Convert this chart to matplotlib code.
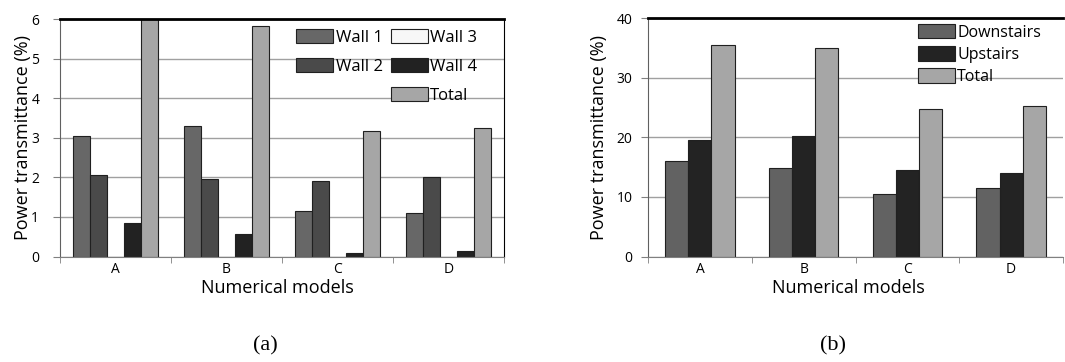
import numpy as np
import matplotlib
matplotlib.use('Agg')
import matplotlib.pyplot as plt
from matplotlib.patches import Patch

plt.rcParams['font.family'] = ['Open Sans', 'DejaVu Sans']

# chart (a): power transmittance through each wall
models = ['A', 'B', 'C', 'D']
wall1 = [3.05, 3.30, 1.15, 1.10]
wall2 = [2.05, 1.95, 1.92, 2.00]
wall3 = [0.0, 0.0, 0.0, 0.0]
wall4 = [0.85, 0.58, 0.10, 0.15]
total_a = [6.0, 5.82, 3.18, 3.25]

# chart (b): downstairs / upstairs
downstairs = [16.0, 14.8, 10.5, 11.5]
upstairs = [19.5, 20.2, 14.5, 14.0]
total_b = [35.4, 34.9, 24.8, 25.3]

fig = plt.figure(figsize=(10.65, 3.62), dpi=100)
ax1 = fig.add_axes([60/1065, 1 - 256.5/362, 444/1065, 237.5/362])
ax2 = fig.add_axes([648/1065, 1 - 256.5/362, 415/1065, 238.5/362])

x = np.arange(len(models))


def style_axes(ax, ymax, step, ypad):
    ax.set_xlim(-0.5, len(models) - 0.5)
    ax.set_ylim(0, ymax)
    ax.set_yticks(np.arange(0, ymax + step / 2, step))
    ax.yaxis.grid(True, color='#a0a0a0', lw=1.0)
    ax.set_axisbelow(True)
    ax.set_xticks(x)
    ax.set_xticklabels(models, fontsize=10)
    ax.tick_params(axis='x', which='major', length=0, pad=4)
    ax.set_xticks(np.arange(-0.5, len(models)), minor=True)
    ax.tick_params(axis='x', which='minor', length=4, color='#808080')
    ax.tick_params(axis='y', length=5, labelsize=10, pad=ypad, color='#808080')
    ax.spines['top'].set_linewidth(2)
    ax.spines['top'].set_color('black')
    ax.spines['left'].set_color('#606060')
    ax.spines['bottom'].set_color('#808080')
    ax.set_xlabel('Numerical models', fontsize=13)
    ax.set_ylabel('Power transmittance (%)', fontsize=13)


# (a)
w = 0.153
series_a = [wall1, wall2, wall3, wall4, total_a]
colors_a = ['#676767', '#4a4a4a', '#f7f7f7', '#222222', '#a6a6a6']
labels_a = ['Wall 1', 'Wall 2', 'Wall 3', 'Wall 4', 'Total']
handles = []
for i, (vals, c, lab) in enumerate(zip(series_a, colors_a, labels_a)):
    b = ax1.bar(x + (i - 2) * w, vals, w, color=c, edgecolor='#202020',
                lw=0.8, label=lab, zorder=2)
    handles.append(b)
style_axes(ax1, 6, 1, 10)
ax1.spines['right'].set_color('black')
ax1.xaxis.set_label_coords((277 - 60) / 444, -0.095)
ax1.yaxis.set_label_coords((32 - 60) / 444, 0.5)
blank = Patch(facecolor='none', edgecolor='none', label='')
ax1.legend([handles[0], handles[1], blank, handles[2], handles[3], handles[4]],
           ['Wall 1', 'Wall 2', '', 'Wall 3', 'Wall 4', 'Total'],
           ncol=2, frameon=False, fontsize=12, loc='upper left',
           bbox_to_anchor=(0.51, 1.0), handlelength=2.2, handleheight=0.95,
           handletextpad=0.15, labelspacing=0.72, columnspacing=0.5,
           borderaxespad=0.2)

# (b)
w = 0.223
series_b = [downstairs, upstairs, total_b]
colors_b = ['#626262', '#232323', '#a6a6a6']
labels_b = ['Downstairs', 'Upstairs', 'Total']
for i, (vals, c, lab) in enumerate(zip(series_b, colors_b, labels_b)):
    ax2.bar(x + (i - 1) * w, vals, w, color=c, edgecolor='#202020',
            lw=0.8, label=lab, zorder=2)
style_axes(ax2, 40, 10, 6)
ax2.spines['right'].set_visible(False)
ax2.xaxis.set_label_coords((848 - 648) / 415, -0.095)
ax2.yaxis.set_label_coords((608 - 648) / 415, 0.5)
ax2.legend(frameon=False, fontsize=11.5, loc='upper left',
           bbox_to_anchor=(0.628, 1.015), handlelength=2.3, handleheight=1.0,
           handletextpad=0.15, labelspacing=0.35, borderaxespad=0.2)

fig.text(265/1065, 1 - 346/362, '(a)', ha='center', va='center',
         fontsize=16, family='Liberation Serif')
fig.text(833/1065, 1 - 346/362, '(b)', ha='center', va='center',
         fontsize=16, family='Liberation Serif')

fig.savefig('out.png', dpi=100)
